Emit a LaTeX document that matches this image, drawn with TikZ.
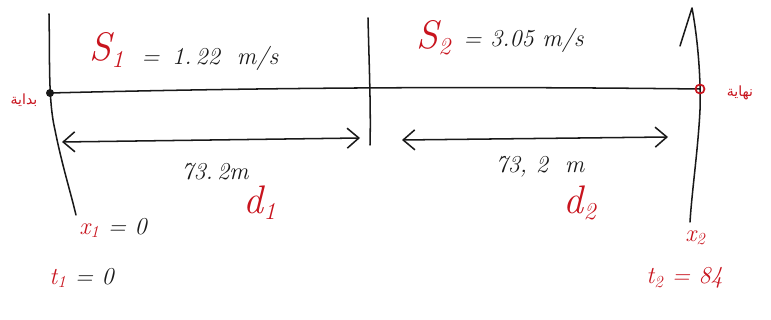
\documentclass[tikz,border=0pt]{standalone}
\usepackage{fontspec}
\newfontfamily\arabicfont[Script=Arabic]{DejaVu Sans}
\TeXXeTstate=1
\usetikzlibrary{arrows.meta}
\definecolor{ink}{RGB}{25,25,25}
\definecolor{redink}{RGB}{200,20,30}
\tikzset{
  pen/.style={draw=ink, line width=1.3pt, line cap=round, line join=round},
  lbl/.style={font=\huge\itshape, text=ink, inner sep=1pt},
  rlbl/.style={font=\huge\itshape, text=redink, inner sep=1pt},
  bigS/.style={font=\fontsize{34}{36}\selectfont\itshape, text=redink, inner sep=1pt},
  arlbl/.style={font=\large\arabicfont, text=redink, inner sep=1pt},
  dimarrow/.style={pen, {Straight Barb[length=3.5mm,width=6mm]}-{Straight Barb[length=3.5mm,width=6mm]}}
}
\begin{document}
\begin{tikzpicture}[x=0.03cm,y=-0.03cm]
\useasboundingbox (0,0) rectangle (771,320);
% coordinates
\coordinate (Ltop) at (49,14);
\coordinate (Lbot) at (76,215);
\coordinate (Mtop) at (368,18);
\coordinate (Mbot) at (370,145);
\coordinate (Rtop) at (692,8);
\coordinate (Rtick) at (680,46);
\coordinate (Rbot) at (690,222);
\coordinate (A) at (50,93);
\coordinate (B) at (700,89);
\coordinate (d1a) at (62,142);
\coordinate (d1b) at (360,138);
\coordinate (d2a) at (402,140);
\coordinate (d2b) at (668,137);
% vertical lines
\draw[pen] (Ltop) .. controls (50,60) and (48,100) .. (55,130) .. controls (62,165) and (70,190) .. (Lbot);
\draw[pen] (Mtop) .. controls (369,60) and (371,110) .. (Mbot);
\draw[pen] (Rtick) -- (Rtop) .. controls (698,40) and (701,80) .. (700,110) .. controls (698,150) and (692,190) .. (Rbot);
% horizontal line
\draw[pen] (A) .. controls (250,88) and (450,86) .. (B);
\fill[ink] (A) circle (4);
\draw[redink, line width=1.5pt] (B) circle (4.5);
% dimension arrows
\draw[dimarrow] (d1a) -- (d1b);
\draw[dimarrow] (d2a) -- (d2b);
% labels
\node[bigS, anchor=west] (s1) at (88,50) {S\textsubscript{\huge 1}};
\node[lbl, anchor=west] (s1v) at (140,58) {=\, 1.\,22\ \ m/s};
\node[bigS, anchor=west] (s2) at (415,38) {S\textsubscript{\huge 2}};
\node[lbl, anchor=west] (s2v) at (462,40) {= 3.05 m/s};
\node[lbl] (l1) at (215,172) {73.\,2m};
\node[bigS] (dd1) at (260,203) {d\textsubscript{\huge 1}};
\node[lbl] (l2) at (540,167) {73,\ 2\ \ m};
\node[bigS] (dd2) at (580,203) {d\textsubscript{\huge 2}};
\node[rlbl, anchor=west] (x1) at (78,228) {x\textsubscript{1} \textcolor{ink}{= 0}};
\node[rlbl, anchor=west] (t1) at (48,278) {t\textsubscript{1} \textcolor{ink}{= 0}};
\node[rlbl, anchor=west] (x2) at (684,238) {x\textsubscript{2}};
\node[rlbl, anchor=west] (t2) at (645,278) {t\textsubscript{2} = 84};
\node[arlbl] (ar1) at (24,100) {\beginR بداية\endR};
\node[arlbl] (ar2) at (740,93) {\beginR نهاية\endR};
\end{tikzpicture}
\end{document}
